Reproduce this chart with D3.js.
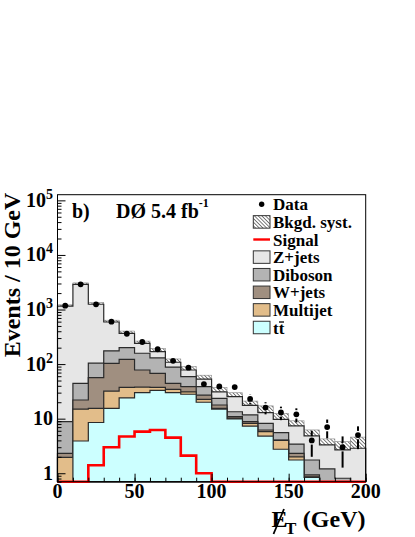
<!DOCTYPE html>
<html>
<head>
<meta charset="utf-8">
<script src="https://cdn.jsdelivr.net/npm/d3@7"></script>
<style>
  body { margin: 0; background: #fff; }
  text { font-family: "Liberation Serif", "Times New Roman", serif; font-weight: bold; fill: #000; }
</style>
</head>
<body>
<svg id="chart" width="415" height="537"></svg>
<script>
// missing ET in 10 GeV bins, 0..200
var binEdges = d3.range(0, 201, 10);
var dataCounts = [1175, 2900, 1245, 598, 360, 254, 187, 115, 86, 43, 39, 38, 23, 16, 13, 12, 4, 7, 3, 5];
var ttbar    = [0.3, 3.9, 8.5, 15.5, 24, 30, 33, 30, 28, 20, 15, 9.9, 7.3, 4.8, 2.75, 1.75, 0.84, 0.5, 0.3, 0.2];
var multijet = [1.66, 11, 6.9, 16.5, 13.5, 8, 4.6, 4.5, 3, 2.5, 0.5, 0.3, 0.9, 1.0, 1.25, 0.25, 0.02, 0.05, 0.02, 0.02];
var wjets    = [0.36, 7.1, 41, 71, 85, 40, 30, 10, 7.5, 4.5, 2.3, 0.7, 0.6, 0.4, 0.07, 0.32, 0.07, 0.05, 0.03, 0.03];
var diboson  = [6.5, 22.5, 47.5, 72, 78, 80, 62, 43.5, 20.5, 11.5, 5.8, 2.5, 2.9, 2.0, 1.5, 1.1, 0.82, 0.6, 0.46, 0.35];
var zjets    = [1141, 2855, 1146, 415, 166, 82, 39, 20, 19, 14.5, 7.4, 11.9, 5.8, 4.7, 4.15, 3.95, 3.07, 2.1, 1.86, 2.27];
var signal   = [0, 0, 1.4, 3.0, 4.7, 5.8, 6.2, 4.5, 2.1, 1.0, 0, 0, 0, 0, 0, 0, 0, 0, 0, 0];
var systFrac = [0.06, 0.06, 0.07, 0.08, 0.1, 0.1, 0.15, 0.15, 0.15, 0.18, 0.2, 0.18, 0.2, 0.33, 0.29, 0.24, 0.29, 0.29, 0.42, 0.6];

var xTicks = [0, 50, 100, 150, 200];
var yTicks = [1, 10, 100, 1000, 10000, 100000];
var legendLabels = ["Data", "Bkgd. syst.", "Signal", "Z+jets", "Diboson", "W+jets", "Multijet", "tt"];

var keys = ["ttbar", "multijet", "wjets", "diboson", "zjets"];
var colors = {ttbar: "#ccffff", multijet: "#e2bd8a", wjets: "#a08f80", diboson: "#b3b3b3", zjets: "#e6e6e6"};

var svg = d3.select("#chart"),
    plotL = 57.5, plotR = 365.7, plotT = 194.7, plotB = 481.7,
    yMin = 0.7, yMax = 1.27e5;

var x = d3.scaleLinear().domain([0, 200]).range([plotL, plotR]);
var y = d3.scaleLog().domain([yMin, yMax]).range([plotB, plotT]).clamp(true);
var yv = function(v) { return y(Math.max(v, yMin * 0.5)); };

var rows = dataCounts.map(function(d, i) {
  return {lo: binEdges[i], hi: binEdges[i + 1], data: d,
          ttbar: ttbar[i], multijet: multijet[i], wjets: wjets[i], diboson: diboson[i], zjets: zjets[i]};
});
var series = d3.stack().keys(keys)(rows);
var totals = rows.map(function(r) { return keys.reduce(function(s, k) { return s + r[k]; }, 0); });

var defs = svg.append("defs");
defs.append("pattern")
  .attr("id", "hatch")
  .attr("patternUnits", "userSpaceOnUse")
  .attr("width", 2.6).attr("height", 2.6)
  .attr("patternTransform", "rotate(-45)")
  .append("line")
  .attr("x1", 1.3).attr("y1", -1).attr("x2", 1.3).attr("y2", 4)
  .attr("stroke", "#444").attr("stroke-width", 0.7);

// syst band first, stack covers its lower half
svg.append("g").selectAll("rect")
  .data(rows)
  .enter().append("rect")
  .attr("x", function(d) { return x(d.lo); })
  .attr("width", function(d) { return x(d.hi) - x(d.lo); })
  .attr("y", function(d, i) { return yv(totals[i] * (1 + systFrac[i])); })
  .attr("height", function(d, i) { return yv(totals[i] * (1 - systFrac[i])) - yv(totals[i] * (1 + systFrac[i])); })
  .attr("fill", "url(#hatch)")
  .attr("stroke", "#888").attr("stroke-width", 0.6);

function stepPoints(vals) {
  var pts = [];
  vals.forEach(function(v, i) {
    pts.push([binEdges[i], v]);
    pts.push([binEdges[i + 1], v]);
  });
  return pts;
}

var stepArea = d3.area()
  .x(function(p) { return x(p[0]); })
  .y0(plotB)
  .y1(function(p) { return yv(p[1]); });

// draw cumulative histograms, largest first
series.slice().reverse().forEach(function(s) {
  var tops = s.map(function(d) { return d[1]; });
  svg.append("path")
    .attr("d", stepArea(stepPoints(tops)))
    .attr("fill", colors[s.key])
    .attr("stroke", "#2a2a2a")
    .attr("stroke-width", 1.2)
    .attr("stroke-linejoin", "miter");
});

// signal
var stepLine = d3.line()
  .x(function(p) { return x(p[0]); })
  .y(function(p) { return yv(p[1]); });
svg.append("path")
  .attr("d", stepLine(stepPoints(signal)))
  .attr("fill", "none")
  .attr("stroke", "#ff0000")
  .attr("stroke-width", 2.6);

// axes (ticks inside)
var yMinor = [];
d3.range(-1, 6).forEach(function(e) {
  d3.range(2, 10).forEach(function(m) {
    var v = m * Math.pow(10, e);
    if (v >= yMin && v <= yMax) yMinor.push(v);
  });
});
var yAxisMinor = svg.append("g").attr("transform", "translate(" + plotL + ",0)")
  .call(d3.axisLeft(y).tickValues(yMinor).tickSize(-4).tickFormat(""));
var yAxisMajor = svg.append("g").attr("transform", "translate(" + plotL + ",0)")
  .call(d3.axisLeft(y).tickValues(yTicks).tickSize(-8).tickFormat(""));
var xAxisMinor = svg.append("g").attr("transform", "translate(0," + plotB + ")")
  .call(d3.axisBottom(x).tickValues(d3.range(0, 201, 10)).tickSize(-4).tickFormat(""));
var xAxisMajor = svg.append("g").attr("transform", "translate(0," + plotB + ")")
  .call(d3.axisBottom(x).tickValues(xTicks).tickSize(-8).tickFormat(""));
[yAxisMinor, yAxisMajor, xAxisMinor, xAxisMajor].forEach(function(g) {
  g.select(".domain").remove();
  g.selectAll("line").attr("stroke", "#000").attr("stroke-width", 1);
});

svg.append("rect")
  .attr("x", plotL).attr("y", plotT)
  .attr("width", plotR - plotL).attr("height", plotB - plotT)
  .attr("fill", "none").attr("stroke", "#000").attr("stroke-width", 1);

// data points with sqrt(N) errors, gap round the marker
var dataG = svg.append("g");
rows.forEach(function(d) {
  var cx = x((d.lo + d.hi) / 2), cy = yv(d.data), err = Math.sqrt(d.data);
  var yHi = yv(d.data + err), yLo = yv(d.data - err), gap = 4.2;
  if (yHi < cy - gap) dataG.append("line").attr("x1", cx).attr("x2", cx).attr("y1", yHi).attr("y2", cy - gap)
    .attr("stroke", "#000").attr("stroke-width", 2);
  if (yLo > cy + gap) dataG.append("line").attr("x1", cx).attr("x2", cx).attr("y1", cy + gap).attr("y2", yLo)
    .attr("stroke", "#000").attr("stroke-width", 2);
  dataG.append("circle").attr("cx", cx).attr("cy", cy).attr("r", 2.9).attr("fill", "#000");
});

// tick labels
xTicks.forEach(function(t) {
  svg.append("text")
    .attr("x", x(t)).attr("y", 498)
    .attr("text-anchor", "middle")
    .attr("font-size", 20)
    .text(t);
});
yTicks.forEach(function(t) {
  var e = Math.round(Math.log10(t));
  var tx = svg.append("text")
    .attr("x", 53).attr("y", y(t) + 6.5)
    .attr("text-anchor", "end")
    .attr("font-size", 20);
  if (e < 2) {
    tx.text(t);
  } else {
    tx.append("tspan").text("10");
    tx.append("tspan").attr("font-size", 14).attr("dy", -8).text(e);
  }
});

// axis titles
svg.append("text")
  .attr("transform", "translate(19.5,275) rotate(-90)")
  .attr("text-anchor", "middle")
  .attr("font-size", 24)
  .text("Events / 10 GeV");

svg.append("text").attr("x", 365.5).attr("y", 527).attr("text-anchor", "end").attr("font-size", 24).text("(GeV)");
svg.append("text").attr("x", 271.5).attr("y", 527).attr("font-size", 24).text("E");
svg.append("text").attr("x", 285).attr("y", 534).attr("font-size", 17).text("T");
svg.append("line").attr("x1", 273.5).attr("y1", 534).attr("x2", 284).attr("y2", 509)
  .attr("stroke", "#000").attr("stroke-width", 1.8);

// plot labels
svg.append("text").attr("x", 72).attr("y", 217.5).attr("font-size", 20).text("b)");
var lumi = svg.append("text").attr("x", 116).attr("y", 217.5).attr("font-size", 20);
lumi.append("tspan").text("DØ 5.4 fb");
lumi.append("tspan").attr("font-size", 12).attr("dy", -11).text("-1");

// legend
var legX = 253.3, legW = 16.7, legH = 12.5, legY0 = 204.3, legStep = 17.6;
var legend = svg.append("g");
legendLabels.forEach(function(lab, i) {
  var cy = legY0 + i * legStep;
  var t = legend.append("text").attr("x", 273).attr("y", cy + 6).attr("font-size", 17).text(lab);
  if (i === 0) {
    legend.append("circle").attr("cx", legX + legW / 2).attr("cy", cy).attr("r", 2.7).attr("fill", "#000");
  } else if (i === 2) {
    legend.append("line").attr("x1", legX).attr("x2", legX + legW).attr("y1", cy).attr("y2", cy)
      .attr("stroke", "#ff0000").attr("stroke-width", 2.4);
  } else {
    var fill = i === 1 ? "url(#hatch)" : colors[keys[7 - i]];
    legend.append("rect").attr("x", legX).attr("y", cy - legH / 2).attr("width", legW).attr("height", legH)
      .attr("fill", fill).attr("stroke", "#333").attr("stroke-width", 1);
  }
  if (i === 7) {
    // bar over the second t
    var w = t.node().getComputedTextLength();
    legend.append("line").attr("x1", 273 + w / 2 + 0.3).attr("x2", 273 + w - 0.3)
      .attr("y1", cy - 5.5).attr("y2", cy - 5.5).attr("stroke", "#000").attr("stroke-width", 1.3);
  }
});
</script>
</body>
</html>
